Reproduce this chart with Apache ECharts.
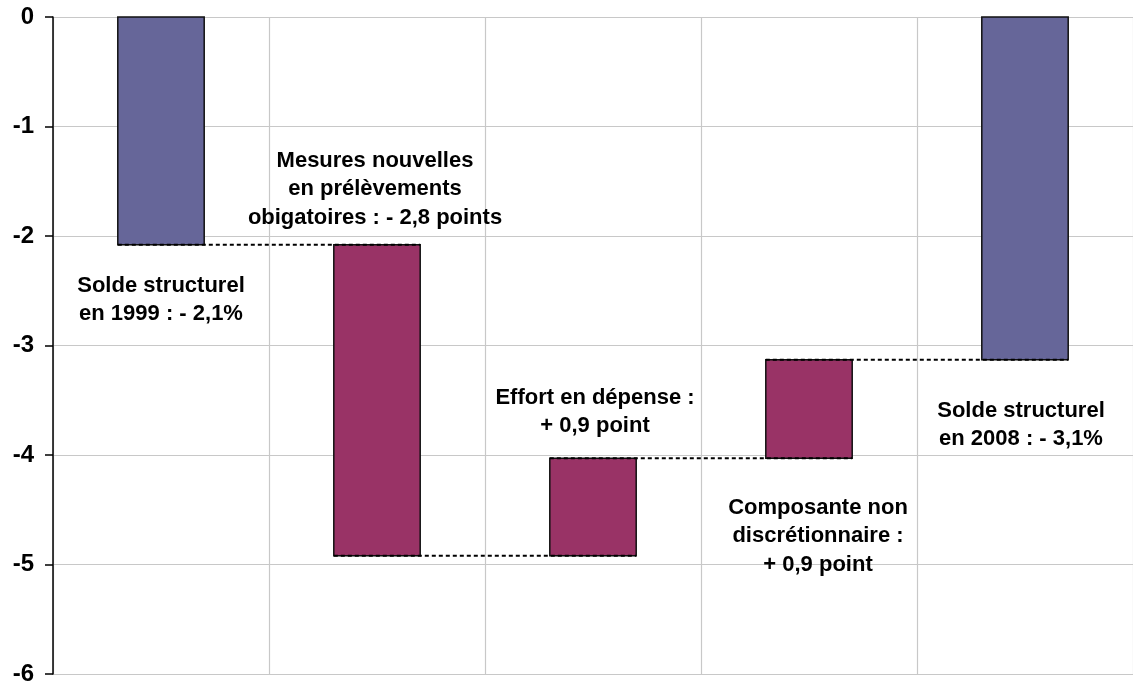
<!DOCTYPE html>
<html>
<head>
<meta charset="utf-8">
<script src="https://cdn.jsdelivr.net/npm/echarts@6/dist/echarts.min.js"></script>
<style>
html,body{margin:0;padding:0;background:#fff;}
#chart{width:1133px;height:687px;}
</style>
</head>
<body>
<div id="chart"></div>
<script>
// Data
var categories = ['Solde 1999', 'Prélèvements', 'Dépense', 'Non discrétionnaire', 'Solde 2008'];
var barStarts = [0, -2.08, -4.92, -4.03, 0];
var barEnds = [-2.08, -4.92, -4.03, -3.13, -3.13];
var barKinds = ['total', 'delta', 'delta', 'delta', 'total'];
var yTicks = [-6, -5, -4, -3, -2, -1, 0];
var annotations = [
  'Mesures nouvelles\nen prélèvements\nobigatoires : - 2,8 points',
  'Solde structurel\nen 1999 : - 2,1%',
  'Effort en dépense :\n+ 0,9 point',
  'Composante non\ndiscrétionnaire :\n+ 0,9 point',
  'Solde structurel\nen 2008 : - 3,1%'
];

var FONT = '"Liberation Sans", Arial, sans-serif';
var kindColor = { total: '#666699', delta: '#993366' };
var BAR_RATIO = 0.4;

var barData = categories.map(function (c, i) { return [i, barStarts[i], barEnds[i]]; });
var connData = [];
for (var i = 0; i < categories.length - 1; i++) connData.push([i, barEnds[i]]);

var chart = echarts.init(document.getElementById('chart'));
var annoPos = [[375, 189], [161, 300], [595, 412], [818, 536], [1021, 425]];

chart.setOption({
  animation: false,
  grid: { left: 53, right: -5, top: 17, bottom: 13 },
  xAxis: {
    type: 'category',
    data: categories,
    boundaryGap: true,
    axisLine: { show: false },
    axisTick: { show: false },
    axisLabel: { show: false },
    splitLine: { show: true, lineStyle: { color: '#c8c8c8', width: 1.2 } }
  },
  yAxis: {
    type: 'value',
    min: yTicks[0],
    max: yTicks[yTicks.length - 1],
    interval: 1,
    axisLine: { show: true, lineStyle: { color: '#000', width: 1.5 } },
    axisTick: { show: true, inside: false, length: 8, lineStyle: { color: '#000', width: 1.5 } },
    axisLabel: { color: '#000', fontFamily: FONT, fontWeight: 'bold', fontSize: 24, margin: 19 },
    splitLine: { show: true, lineStyle: { color: '#c8c8c8', width: 1.2 } }
  },
  series: [
    {
      type: 'custom',
      data: barData,
      z: 2,
      encode: { x: 0, y: [1, 2] },
      renderItem: function (params, api) {
        var idx = api.value(0);
        var p1 = api.coord([idx, api.value(1)]);
        var p2 = api.coord([idx, api.value(2)]);
        var w = api.size([1, 0])[0] * BAR_RATIO;
        return {
          type: 'rect',
          shape: { x: p1[0] - w / 2, y: Math.min(p1[1], p2[1]), width: w, height: Math.abs(p2[1] - p1[1]) },
          style: { fill: kindColor[barKinds[idx]], stroke: '#111', lineWidth: 1.5 }
        };
      }
    },
    {
      type: 'custom',
      data: connData,
      z: 3,
      encode: { x: 0, y: 1 },
      renderItem: function (params, api) {
        var idx = api.value(0);
        var v = api.value(1);
        var a = api.coord([idx, v]);
        var b = api.coord([idx + 1, v]);
        var w = api.size([1, 0])[0] * BAR_RATIO;
        return {
          type: 'line',
          shape: { x1: a[0] - w / 2, y1: a[1], x2: b[0] + w / 2, y2: b[1] },
          style: { stroke: '#000', lineWidth: 2, lineDash: [4, 3] }
        };
      }
    }
  ],
  graphic: annotations.map(function (t, i) {
    return {
      type: 'text',
      x: annoPos[i][0],
      y: annoPos[i][1],
      z: 10,
      style: {
        text: t,
        fill: '#000',
        font: 'bold 22px ' + FONT,
        textAlign: 'center',
        textVerticalAlign: 'middle',
        lineHeight: 28.5
      }
    };
  })
});
</script>
</body>
</html>
